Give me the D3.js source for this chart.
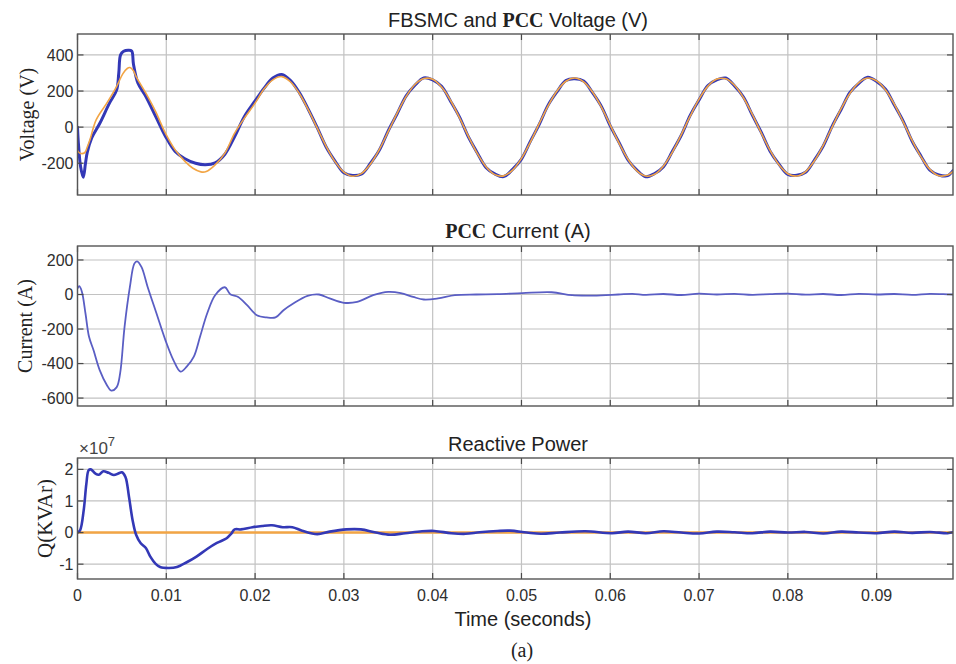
<!DOCTYPE html>
<html>
<head>
<meta charset="utf-8">
<script src="https://cdn.jsdelivr.net/npm/d3@7"></script>
<style>
  body { margin: 0; background: #fff; }
  svg { display: block; }
</style>
</head>
<body>
<svg id="chart" width="956" height="664"></svg>
<script>
// ---- time axis (milliseconds) ----
const timeTicks = [0, 10, 20, 30, 40, 50, 60, 70, 80, 90];
const timeTickLabels = ["0", "0.01", "0.02", "0.03", "0.04", "0.05", "0.06", "0.07", "0.08", "0.09"];
const timeEnd = 98.6;

// steady-state sampling instants shared by both voltage traces (ms)
const steadyTime = [26, 27, 28, 29, 30, 31, 32, 33, 34, 35, 36, 37, 38, 39, 40, 41, 42, 43, 44, 45,
  46, 47, 48, 49, 50, 51, 52, 53, 54, 55, 56, 57, 58, 59, 60, 61, 62, 63, 64, 65, 66, 67, 68, 69, 70,
  71, 72, 73, 74, 75, 76, 77, 78, 79, 80, 81, 82, 83, 84, 85, 86, 87, 88, 89, 90, 91, 92, 93, 94, 95,
  96, 97, 98, 98.6];

// ---- FBSMC voltage (V) ----
const fbsmcStartTime = [0, 0.1, 0.35, 0.65, 0.9, 1.1, 1.6, 2.5, 3.6, 4.4, 4.65, 4.85, 5.2, 5.7, 6.1,
  6.3, 6.8, 7.7, 8.8, 9.9, 11.0, 12.1, 13.3, 14.4, 15.5, 16.6, 17.7, 18.8, 20, 21, 22, 23, 24, 25];
const fbsmcStartVoltage = [0, -88, -220, -278, -200, -140, -60, 20, 133, 205, 300, 400, 420, 426, 422,
  350, 245, 170, 60, -50, -135, -175, -200, -208, -198, -150, -52, 59, 145, 215, 272, 292, 258, 190];
const fbsmcSteadyVoltage = [98, -3, -110, -188, -253, -268, -260, -200, -127, -20, 74, 172, 232, 273,
  262, 226, 145, 58, -52, -140, -223, -259, -274, -234, -177, -79, 15, 122, 196, 258, 268, 255, 191,
  115, 7, -86, -182, -238, -275, -257, -219, -134, -45, 65, 151, 231, 262, 272, 228, 167, 67, -28,
  -133, -205, -262, -267, -250, -182, -103, 6, 98, 192, 243, 276, 253, 210, 122, 32, -78, -161, -238,
  -265, -269, -241];

// ---- PCC voltage (V) ----
const pccStartTime = [0, 0.3, 0.8, 1.1, 1.4, 2.1, 3.3, 4.4, 5.1, 5.6, 5.9, 6.3, 6.6, 7.7, 8.8, 9.9,
  11.0, 12.1, 13.0, 13.9, 14.5, 15.5, 16.6, 17.7, 18.8, 20, 21, 22, 23, 24, 25];
const pccStartVoltage = [-130, -145, -142, -110, -70, 40, 133, 225, 295, 325, 330, 312, 280, 188, 86,
  -33, -126, -190, -228, -248, -246, -209, -144, -33, 50, 133, 211, 262, 280, 250, 185];
const pccSteadyVoltage = [95, -6, -106, -191, -249, -272, -256, -204, -123, -24, 78, 169, 236, 269,
  265, 222, 149, 54, -48, -144, -219, -263, -270, -238, -173, -83, 19, 118, 200, 254, 272, 251, 195,
  111, 11, -90, -178, -242, -271, -261, -215, -138, -41, 61, 155, 227, 266, 268, 232, 163, 71, -32,
  -129, -209, -258, -271, -246, -186, -99, 2, 102, 188, 247, 272, 257, 206, 126, 28, -74, -165, -234,
  -269, -265, -245];

// ---- PCC current (A) ----
const currentTime = [0, 0.2, 0.5, 0.9, 1.3, 1.8, 2.5, 3.3, 3.8, 4.4, 4.8, 5.3, 5.9, 6.4, 6.7, 7.2,
  7.9, 8.9, 9.9, 10.8, 11.6, 12.3, 13.1, 13.8, 14.6, 15.5, 16.6, 17.2, 18.1, 19.1, 20.2, 21.3, 22.3,
  23.2, 24.3, 25.9, 27.2, 28.4, 30.0, 31.5, 33.3, 35.0, 36.4, 37.8, 39.0, 40.6, 42.5, 44.9, 47.3,
  50.1, 53.4, 55.7, 58.1, 60.9, 62.5, 64, 66, 68, 70, 72, 74, 76, 78, 80, 82, 84, 86, 88, 90, 92, 94,
  96, 98, 98.6];
const pccCurrent = [35, 48, 15, -110, -245, -322, -438, -524, -557, -538, -457, -187, 44, 179, 192,
  160, 44, -110, -264, -380, -447, -418, -360, -245, -110, -4, 42, 2, -14, -62, -120, -133, -133, -91,
  -52, -8, 0, -23, -48, -43, -4, 15, 8, -14, -29, -23, -4, 0, 2, 8, 13, -4, -6, 0, 4, -2, 3, -3, 5, 0,
  4, -2, 2, 5, -1, 3, -3, 4, 0, 3, -2, 4, 1, 0];

// ---- reactive power (x 10^7) ----
const powerTime = [0, 0.3, 0.7, 1.0, 1.25, 1.5, 2.0, 2.4, 2.9, 3.5, 4.1, 4.6, 5.0, 5.4, 5.8, 6.2, 6.6,
  7.1, 7.7, 8.2, 8.8, 9.3, 10.3, 11.2, 12.3, 13.4, 14.6, 15.7, 16.8, 17.3, 17.7, 18.4, 19.7, 20.8,
  21.9, 23.1, 24.2, 25.3, 27.0, 28.4, 30.3, 31.9, 33.6, 35.2, 36.9, 38.8, 40.2, 42.1, 43.7, 45.3,
  47.3, 48.7, 50.6, 52.2, 54.3, 57.2, 60.2, 62, 64, 66, 68, 70, 72, 74, 76, 78, 80, 82, 84, 86, 88,
  90, 92, 94, 96, 98, 98.6];
const reactivePower = [0, 0.08, 0.71, 1.55, 1.97, 2.0, 1.87, 1.83, 1.94, 1.89, 1.82, 1.87, 1.91,
  1.76, 1.13, 0.4, -0.07, -0.33, -0.49, -0.76, -0.99, -1.09, -1.12, -1.09, -0.94, -0.76, -0.52,
  -0.33, -0.18, -0.04, 0.1, 0.1, 0.17, 0.21, 0.23, 0.17, 0.17, 0.06, -0.05, 0.03, 0.1, 0.1, 0,
  -0.07, -0.02, 0.04, 0.05, -0.02, -0.04, 0.01, 0.05, 0.06, 0, -0.04, 0, 0.04, -0.02, 0.03, -0.02,
  0.04, 0, -0.03, 0.03, 0.01, -0.02, 0.03, 0, 0.02, -0.03, 0.03, 0, -0.02, 0.03, -0.01, 0.02, -0.02,
  0.01, 0.02];
const referenceTime = [0, 98.6];
const referencePower = [0, 0];

// ---- y ticks ----
const voltageTicks = [-200, 0, 200, 400];
const currentTicks = [-600, -400, -200, 0, 200];
const powerTicks = [-1, 0, 1, 2];

// ---- styling ----
const BLUE = "#3338b6";
const BLUE_LIGHT = "#5a5ec4";
const ORANGE = "#f2a545";
const SANS = "'Liberation Sans', Arial, sans-serif";
const SERIF = "'Liberation Serif', 'Times New Roman', serif";

const svg = d3.select("#chart");
const x = d3.scaleLinear().domain([0, timeEnd]).range([77.5, 953]);

function zip(ts, vs) { return ts.map((t, i) => [t, vs[i]]); }

let clipId = 0;
function panel(cfg) {
  const y = d3.scaleLinear().domain(cfg.domain).range([cfg.bottom, cfg.top]);
  const g = svg.append("g");
  const [x0, x1] = x.range();

  // grid
  g.append("g").selectAll("line").data(timeTicks).join("line")
    .attr("x1", d => x(d)).attr("x2", d => x(d))
    .attr("y1", cfg.top).attr("y2", cfg.bottom)
    .attr("stroke", "#c2c2c2").attr("stroke-width", 1.2);
  g.append("g").selectAll("line").data(cfg.ticks).join("line")
    .attr("x1", x0).attr("x2", x1)
    .attr("y1", d => y(d)).attr("y2", d => y(d))
    .attr("stroke", "#c2c2c2").attr("stroke-width", 1.2);

  // traces
  const id = "clip" + (clipId++);
  svg.append("clipPath").attr("id", id).append("rect")
    .attr("x", x0).attr("y", cfg.top).attr("width", x1 - x0).attr("height", cfg.bottom - cfg.top);
  const lines = g.append("g").attr("clip-path", `url(#${id})`);
  const line = d3.line().x(d => x(d[0])).y(d => y(d[1])).curve(d3.curveCatmullRom.alpha(0.5));
  cfg.series.forEach(s => {
    lines.append("path").datum(s.points)
      .attr("d", line).attr("fill", "none")
      .attr("stroke", s.color).attr("stroke-width", s.width)
      .attr("stroke-linejoin", "round").attr("stroke-linecap", "round");
  });

  // tick marks (inside, all four sides)
  const tk = g.append("g").attr("stroke", "#4a4a4a").attr("stroke-width", 1.2);
  timeTicks.forEach(t => {
    tk.append("line").attr("x1", x(t)).attr("x2", x(t)).attr("y1", cfg.bottom).attr("y2", cfg.bottom - 6);
    tk.append("line").attr("x1", x(t)).attr("x2", x(t)).attr("y1", cfg.top).attr("y2", cfg.top + 6);
  });
  cfg.ticks.forEach(v => {
    tk.append("line").attr("x1", x0).attr("x2", x0 + 6).attr("y1", y(v)).attr("y2", y(v));
    tk.append("line").attr("x1", x1).attr("x2", x1 - 6).attr("y1", y(v)).attr("y2", y(v));
  });

  // frame
  g.append("rect").attr("x", x0).attr("y", cfg.top).attr("width", x1 - x0).attr("height", cfg.bottom - cfg.top)
    .attr("fill", "none").attr("stroke", "#555").attr("stroke-width", 1.4);

  // y tick labels
  g.append("g").selectAll("text").data(cfg.ticks).join("text")
    .attr("x", x0 - 4).attr("y", d => y(d)).attr("dy", "0.36em")
    .attr("text-anchor", "end").attr("font-family", SANS).attr("font-size", 16)
    .attr("fill", "#2e2e2e").text(d => d);

  // title
  const title = g.append("text").attr("x", 518).attr("y", cfg.titleY)
    .attr("text-anchor", "middle").attr("font-size", 20).attr("fill", "#222");
  cfg.title.forEach(part => {
    title.append("tspan").attr("font-family", part.serif ? SERIF : SANS)
      .attr("font-weight", part.serif ? "bold" : "normal").text(part.text);
  });

  // y label
  g.append("text")
    .attr("transform", `translate(${cfg.labelX},${(cfg.top + cfg.bottom) / 2}) rotate(-90)`)
    .attr("text-anchor", "middle").attr("font-family", SERIF).attr("font-size", cfg.labelSize)
    .attr("fill", "#222").text(cfg.ylabel);

  return { g, y };
}

// Voltage panel
panel({
  top: 34, bottom: 195, domain: [-376, 516], ticks: voltageTicks,
  titleY: 27, title: [{ text: "FBSMC and " }, { text: "PCC", serif: true }, { text: " Voltage (V)" }],
  ylabel: "Voltage (V)", labelX: 34, labelSize: 20,
  series: [
    { points: zip(fbsmcStartTime.concat(steadyTime), fbsmcStartVoltage.concat(fbsmcSteadyVoltage)), color: BLUE, width: 3 },
    { points: zip(pccStartTime.concat(steadyTime), pccStartVoltage.concat(pccSteadyVoltage)), color: ORANGE, width: 1.6 }
  ]
});

// Current panel
panel({
  top: 246, bottom: 406, domain: [-646, 281], ticks: currentTicks,
  titleY: 238, title: [{ text: "PCC", serif: true }, { text: " Current (A)" }],
  ylabel: "Current (A)", labelX: 32, labelSize: 20,
  series: [
    { points: zip(currentTime, pccCurrent), color: BLUE_LIGHT, width: 1.8 }
  ]
});

// Reactive power panel
panel({
  top: 458, bottom: 579, domain: [-1.47, 2.36], ticks: powerTicks,
  titleY: 451, title: [{ text: "Reactive Power" }],
  ylabel: "Q(KVAr)", labelX: 52, labelSize: 21,
  series: [
    { points: zip(referenceTime, referencePower), color: ORANGE, width: 2.4 },
    { points: zip(powerTime, reactivePower), color: BLUE, width: 2.6 }
  ]
});

// exponent marker
const expo = svg.append("text").attr("x", 79).attr("y", 454)
  .attr("font-family", SANS).attr("font-size", 17).attr("fill", "#444");
expo.append("tspan").text("\u00d710");
expo.append("tspan").attr("dy", -8).attr("font-size", 13).text("7");

// shared time axis labels
svg.append("g").selectAll("text").data(timeTicks).join("text")
  .attr("x", d => x(d)).attr("y", 601)
  .attr("text-anchor", "middle").attr("font-family", SANS).attr("font-size", 16)
  .attr("fill", "#2e2e2e").text((d, i) => timeTickLabels[i]);

svg.append("text").attr("x", 523).attr("y", 626)
  .attr("text-anchor", "middle").attr("font-family", SANS).attr("font-size", 20)
  .attr("fill", "#222").text("Time (seconds)");

svg.append("text").attr("x", 522).attr("y", 657)
  .attr("text-anchor", "middle").attr("font-family", SERIF).attr("font-size", 20)
  .attr("fill", "#222").text("(a)");
</script>
</body>
</html>
